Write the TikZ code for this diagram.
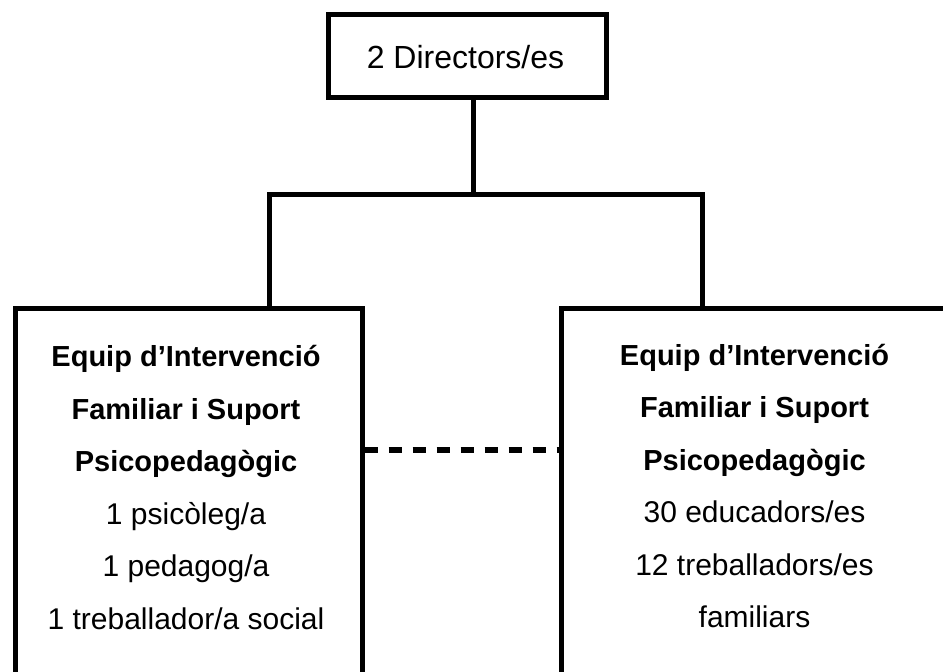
\documentclass[tikz,border=0pt]{standalone}
\usepackage{fontspec}
\setmainfont{Liberation Sans}
\usetikzlibrary{calc}
\newcommand{\hdline}[1]{{\fontsize{29}{52.5}\selectfont\bfseries #1}}
\begin{document}
\begin{tikzpicture}[x=1pt,y=-1pt,
  boxline/.style={draw=black,line width=5pt},
  orgbox/.style={boxline,rectangle,inner sep=0pt},
  conn/.style={draw=black,line width=5pt},
  dashconn/.style={draw=black,line width=5.5pt,dash pattern=on 13pt off 11pt},
  boxtext/.style={align=center,inner sep=0pt,font=\fontsize{30}{52.5}\selectfont},
  toptext/.style={inner sep=0pt,font=\fontsize{32}{38}\selectfont}]
\useasboundingbox (0,0) rectangle (943,672);
\clip (0,0) rectangle (943,672);
\fill[white] (0,0) rectangle (943,672);
% top box
\node[orgbox,minimum width=278pt,minimum height=83pt] (dir) at (467.5,56) {};
\node[toptext] (dirtext) at (465.5,57) {2 Directors/es};
% lower boxes
\node[orgbox,minimum width=347pt,minimum height=420pt,anchor=north west] (lbox) at (12.5,305.5) {};
\node[orgbox,minimum width=392pt,minimum height=420pt,anchor=north west] (rbox) at (558.5,305.5) {};
\node[boxtext] (ltext) at (186,487.5) {\hdline{Equip d’Intervenció}\\\hdline{Familiar i Suport}\\\hdline{Psicopedagògic}\\1 psicòleg/a\\1 pedagog/a\\1 treballador/a social};
\node[boxtext] (rtext) at (754.5,486) {\hdline{Equip d’Intervenció}\\\hdline{Familiar i Suport}\\\hdline{Psicopedagògic}\\30 educadors/es\\12 treballadors/es\\familiars};
% connectors
\coordinate (hub) at (473,194.5);
\coordinate (lc) at (269,194.5);
\coordinate (rc) at (702,194.5);
\draw[conn] (hub |- dir.south) -- (hub);
\draw[conn] (lc |- lbox.north) -- (lc) -- (rc) -- (rc |- rbox.north);
\draw[dashconn] ($(lbox.north east)+(0,144.5)$) -- ($(rbox.north west)+(0,144.5)$);
\end{tikzpicture}
\end{document}
